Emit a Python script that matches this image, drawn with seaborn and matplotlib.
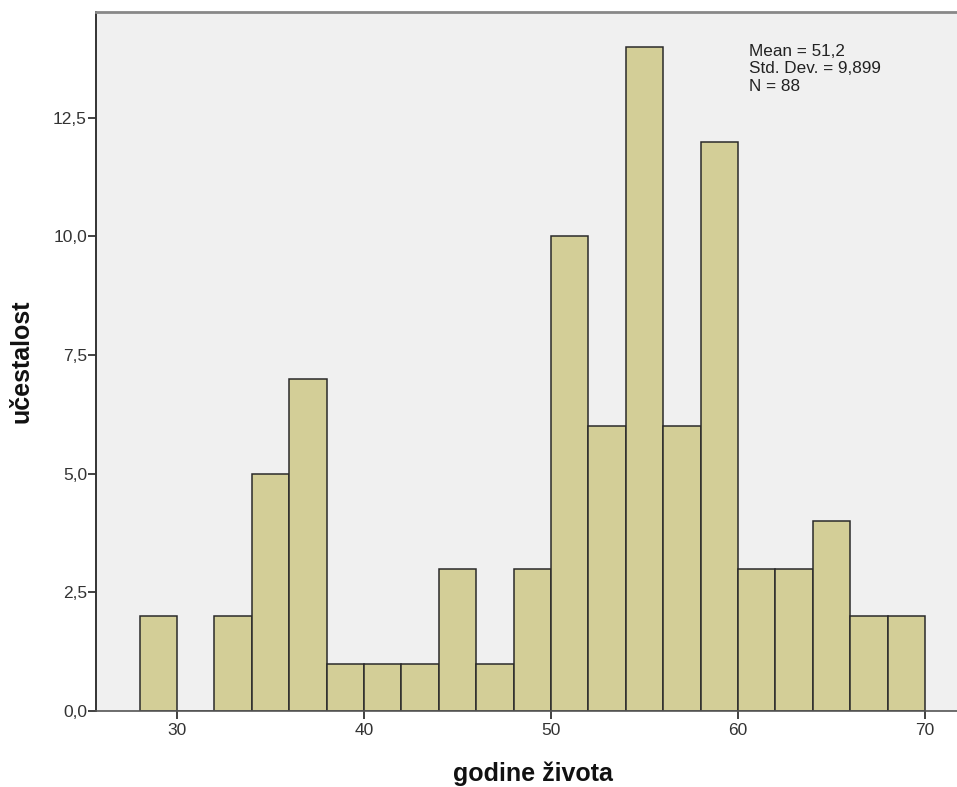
import numpy as np
import matplotlib
matplotlib.use("Agg")
import matplotlib.pyplot as plt
import seaborn as sns

# Histogram of age: bin edges (width 2) and counts per bin
bin_edges = [28, 30, 32, 34, 36, 38, 40, 42, 44, 46, 48, 50, 52, 54, 56, 58, 60, 62, 64, 66, 68, 70]
counts = [2, 0, 2, 5, 7, 1, 1, 1, 3, 1, 3, 10, 6, 14, 6, 12, 3, 3, 4, 2, 2]
x_ticks = [30, 40, 50, 60, 70]
y_ticks = [0.0, 2.5, 5.0, 7.5, 10.0, 12.5]
stats_lines = ["Mean = 51,2", "Std. Dev. = 9,899", "N = 88"]

sns.set_theme(style="white")
plt.rcParams["font.family"] = ["Liberation Sans", "DejaVu Sans"]

mids = [(a + b) / 2 for a, b in zip(bin_edges[:-1], bin_edges[1:])]

fig = plt.figure(figsize=(9.57, 7.87), dpi=100)
ax_w = 0.9497
ax = fig.add_axes([0.1003, 0.0966, ax_w, 0.8882])
ax.set_facecolor("#f0f0f0")

sns.histplot(x=mids, weights=counts, bins=bin_edges, ax=ax,
             color="#d3ce97", edgecolor="#2a2a2a", linewidth=1.1, alpha=1.0)

ax.set_xlim(25.67, 25.67 + (ax_w * 957) / 18.7)
ax.set_ylim(0, 14.73)

ax.set_xticks(x_ticks)
ax.set_xticklabels([str(t) for t in x_ticks])
ax.set_yticks(y_ticks)
ax.set_yticklabels([f"{t:.1f}".replace(".", ",") for t in y_ticks])
ax.tick_params(axis="both", direction="out", length=6, width=1.3, color="#333333",
               labelsize=12.5, labelcolor="#333333", bottom=True, left=True)
ax.tick_params(axis="y", pad=0.5)
ax.tick_params(axis="x", pad=3)

for side in ["left", "bottom", "top", "right"]:
    ax.spines[side].set_visible(True)
ax.spines["left"].set_color("#333333")
ax.spines["left"].set_linewidth(1.4)
ax.spines["bottom"].set_color("#555555")
ax.spines["bottom"].set_linewidth(1.2)
ax.spines["top"].set_color("#888888")
ax.spines["top"].set_linewidth(2)
ax.spines["right"].set_visible(False)

ax.set_xlabel("godine života", fontsize=18, fontweight="bold", color="#111111")
ax.set_ylabel("učestalost", fontsize=18, fontweight="bold", color="#111111")
ax.xaxis.set_label_coords((533 - 96) / (ax_w * 957), -(774 - 711) / (0.8882 * 787), transform=ax.transAxes)
ax.xaxis.label.set_va("center")
ax.yaxis.set_label_coords(-(96 - 22) / (ax_w * 957), 0.5, transform=ax.transAxes)
ax.yaxis.label.set_va("center")

ax.text((749 - 96) / (ax_w * 957), (711 - 44) / (0.8882 * 787), "\n".join(stats_lines),
        transform=ax.transAxes, fontsize=12.3, color="#222222",
        va="top", ha="left", linespacing=1.2)

fig.savefig("out.png", dpi=100)
